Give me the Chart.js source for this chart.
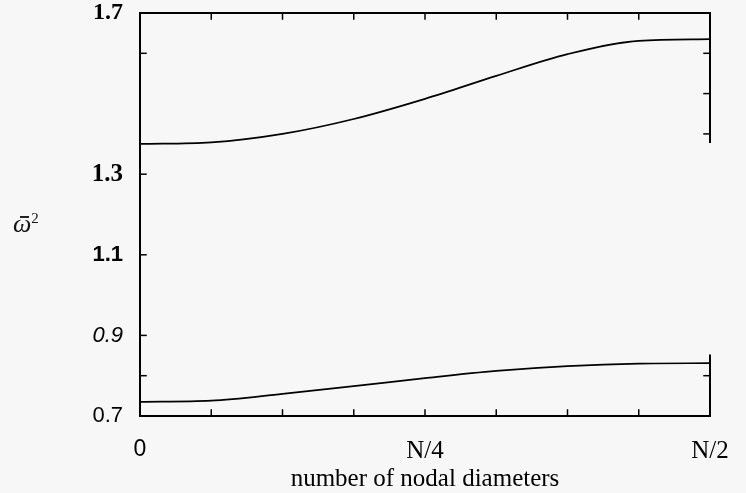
<!DOCTYPE html>
<html>
<head>
<meta charset="utf-8">
<script src="https://cdn.jsdelivr.net/npm/chart.js@4/dist/chart.umd.min.js"></script>
<style>
  html, body { margin: 0; padding: 0; background: #f7f7f7; }
  #wrap { position: relative; width: 746px; height: 493px; }
  #ylab { position: absolute; left: 13px; top: 211px; font: italic 26px "Liberation Serif", serif; color: #151515; line-height: 26px; white-space: nowrap; }
  #ylab sup { font-size: 15px; font-style: normal; vertical-align: 9px; line-height: 0; }
  #ybar { position: absolute; left: 20px; top: 216px; width: 9px; height: 1.5px; background: #222; }
</style>
</head>
<body>
<div id="wrap">
  <canvas id="c" width="746" height="493"></canvas>
  <div id="ylab">ω<sup>2</sup></div>
  <div id="ybar"></div>
</div>
<script>
// x positions in units of N/16 (0 .. 8 = N/2)
const xPositions   = [0, 1, 2, 3, 4, 5, 6, 7, 8];
const upperBranch  = [1.375, 1.379, 1.400, 1.437, 1.487, 1.544, 1.598, 1.631, 1.635];
const lowerBranch  = [0.735, 0.738, 0.755, 0.774, 0.794, 0.812, 0.824, 0.830, 0.831];
const yTickValues  = [0.7, 0.9, 1.1, 1.3, 1.7];
const yTickLabels  = ['0.7', '0.9', '1.1', '1.3', '1.7'];
const xTickValues  = [0, 4, 8];
const xTickLabels  = ['0', 'N/4', 'N/2'];
const xMinorTicks  = [1, 2, 3, 4, 5, 6, 7];
const leftMarks    = [1.6, 1.3, 1.1, 0.9, 0.8];
const rightMarks   = [1.6, 1.5, 1.4, 0.8];
const xTitle       = 'number of nodal diameters';

const yFonts = {
  '1.7': { family: 'Liberation Serif', size: 24, weight: 'bold' },
  '1.3': { family: 'Liberation Serif', size: 25, weight: 'bold' },
  '1.1': { family: 'Liberation Sans', size: 22, weight: 'bold' },
  '0.9': { family: 'Liberation Sans', size: 22, style: 'italic' },
  '0.7': { family: 'Liberation Sans', size: 22 }
};

const framePlugin = {
  id: 'frame',
  afterDatasetsDraw(chart) {
    const { ctx, scales: { x, y } } = chart;
    const X = v => x.getPixelForValue(v), Y = v => y.getPixelForValue(v);
    const seg = (x1, y1, x2, y2) => { ctx.beginPath(); ctx.moveTo(x1, y1); ctx.lineTo(x2, y2); ctx.stroke(); };
    ctx.save();
    ctx.strokeStyle = '#000';
    ctx.lineWidth = 2;
    ctx.lineCap = 'square';
    const x0 = X(0), x1 = X(8), yT = Y(1.7), yB = Y(0.7);
    seg(x0, yT, x1, yT);
    seg(x0, yT, x0, yB);
    seg(x0, yB, x1, yB);
    seg(x1, yT, x1, Y(1.38));
    seg(x1, Y(0.85), x1, yB);
    ctx.lineWidth = 1.5;
    const L = 6;
    xMinorTicks.forEach(v => { seg(X(v), yT, X(v), yT + L); seg(X(v), yB, X(v), yB - L); });
    leftMarks.forEach(v => seg(x0, Y(v), x0 + L, Y(v)));
    rightMarks.forEach(v => seg(x1, Y(v), x1 - L, Y(v)));
    ctx.restore();
  }
};

new Chart(document.getElementById('c'), {
  type: 'line',
  data: {
    datasets: [
      { data: xPositions.map((v, i) => ({ x: v, y: upperBranch[i] })) },
      { data: xPositions.map((v, i) => ({ x: v, y: lowerBranch[i] })) }
    ]
  },
  options: {
    responsive: false,
    animation: false,
    layout: { padding: { top: 13, right: 36, left: 0, bottom: 0 } },
    plugins: { legend: { display: false }, tooltip: { enabled: false } },
    elements: {
      point: { radius: 0 },
      line: { borderColor: '#000', borderWidth: 1.7, cubicInterpolationMode: 'monotone', fill: false }
    },
    scales: {
      x: {
        type: 'linear', min: 0, max: 8,
        grid: { display: false, drawTicks: false },
        border: { display: false },
        afterBuildTicks: s => { s.ticks = xTickValues.map(v => ({ value: v })); },
        afterFit: s => { s.height = 77; s.paddingLeft = 0; s.paddingRight = 0; },
        ticks: {
          autoSkip: false, maxRotation: 0, color: '#000', padding: 20,
          callback: v => xTickLabels[xTickValues.indexOf(v)],
          font: c => (c.tick && c.tick.value === 0)
            ? { family: 'Liberation Sans', size: 23, lineHeight: 1.2 }
            : { family: 'Liberation Serif', size: 25, lineHeight: 1.2 }
        },
        title: { display: true, text: xTitle, color: '#000',
                 font: { family: 'Liberation Serif', size: 25, lineHeight: 1 }, padding: { top: 0, bottom: 1 } }
      },
      y: {
        type: 'linear', min: 0.7, max: 1.7,
        grid: { display: false, drawTicks: false },
        border: { display: false },
        afterBuildTicks: s => { s.ticks = yTickValues.map(v => ({ value: v })); },
        afterFit: s => { s.width = 140; s.paddingTop = 0; s.paddingBottom = 0; },
        ticks: {
          autoSkip: false, color: '#000', padding: 17,
          callback: v => yTickLabels[yTickValues.indexOf(v)],
          font: c => {
            const lbl = c.tick ? yTickLabels[yTickValues.indexOf(c.tick.value)] : '0.7';
            return yFonts[lbl] || yFonts['0.7'];
          }
        }
      }
    }
  },
  plugins: [framePlugin]
});
</script>
</body>
</html>
